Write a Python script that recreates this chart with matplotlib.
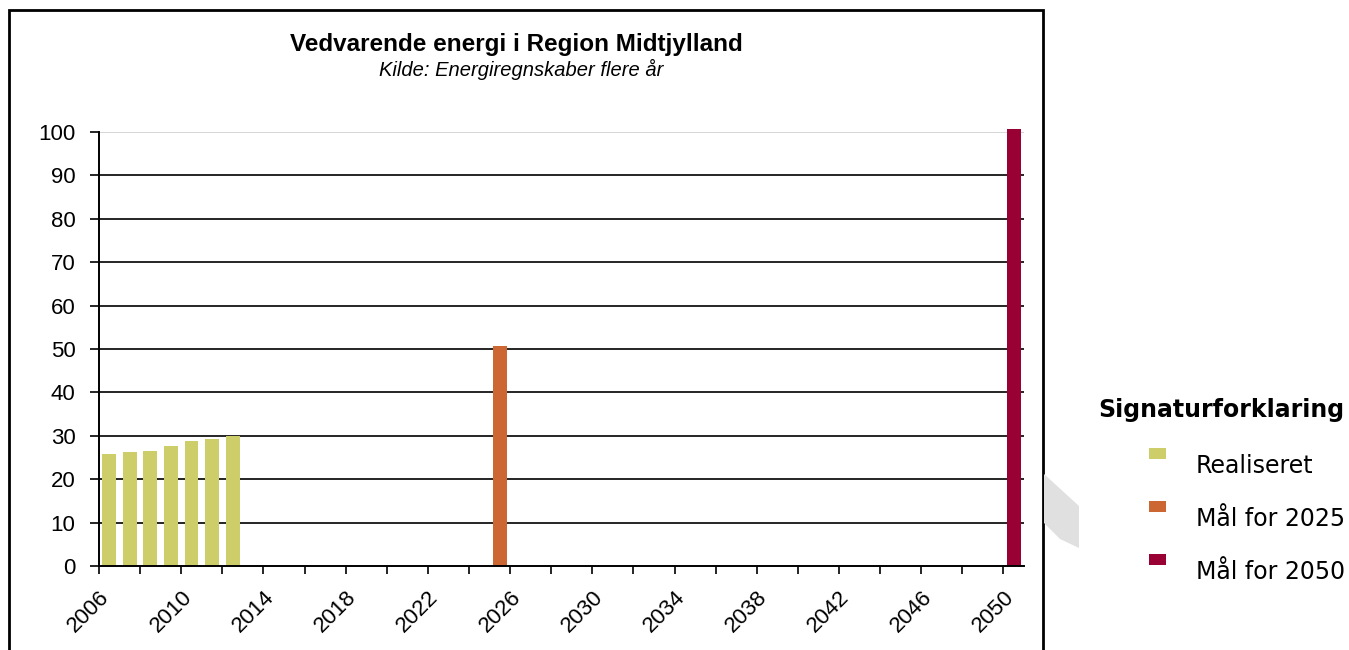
import matplotlib.pyplot as plt
from matplotlib.patches import Rectangle, Polygon
import numpy as np

# category axis: one slot per year
years = list(range(2006, 2051))

realised_years = [2006, 2007, 2008, 2009, 2010, 2011, 2012]
realised_vals = [25.8, 26.2, 26.6, 27.7, 28.8, 29.2, 30.0]
goal_2025_years = [2025]
goal_2025_vals = [50.6]
goal_2050_years = [2050]
goal_2050_vals = [100.8]

legend_labels = ["Realiseret", "Mål for 2025", "Mål for 2050"]
colors = ["#CDCD69", "#CC6633", "#990033"]

W, H = 1349, 650


def fx(px):
    return px / W


def fy(py):
    return 1 - py / H


def main():
    fig = plt.figure(figsize=(W / 100, H / 100), dpi=100)
    ax = fig.add_axes([fx(99), fy(566), fx(1024) - fx(99), fy(132) - fy(566)])

    idx = {y: i for i, y in enumerate(years)}
    series = [
        (realised_years, realised_vals),
        (goal_2025_years, goal_2025_vals),
        (goal_2050_years, goal_2050_vals),
    ]
    for (yrs, vals), c in zip(series, colors):
        x = [idx[y] for y in yrs]
        ax.bar(x, vals, width=0.68, color=c, zorder=3, clip_on=False)

    ax.set_xlim(-0.5, len(years) - 0.5)
    ax.set_ylim(0, 100)

    # y axis
    yt = np.arange(0, 101, 10)
    ax.set_yticks(yt)
    ax.set_yticklabels([str(v) for v in yt], fontsize=16, family="Liberation Sans")
    for v in yt[1:-1]:
        ax.axhline(v, color="black", lw=1.2, zorder=1)
    ax.axhline(100, color="#d0d0d0", lw=1.2, zorder=1)
    ax.tick_params(axis="y", length=6.5, width=1.2, pad=10.5, direction="out")

    # x axis: ticks on category edges every 2 years, labels every 4
    tick_years = [y for y in years if (y - 2006) % 2 == 0]
    ax.set_xticks([idx[y] - 0.5 for y in tick_years])
    ax.set_xticklabels(
        [str(y) if (y - 2006) % 4 == 0 else "" for y in tick_years],
        rotation=45, ha="right", va="top", rotation_mode="anchor",
        fontsize=16, family="Liberation Sans",
    )
    ax.tick_params(axis="x", length=6, width=1.2, pad=9, direction="out")

    for s in ["top", "right"]:
        ax.spines[s].set_visible(False)
    for s in ["left", "bottom"]:
        ax.spines[s].set_linewidth(1.4)
        ax.spines[s].set_zorder(4)

    # chart frame
    fig.patches.append(Rectangle((fx(9), fy(660)), fx(1043) - fx(9), fy(10) - fy(660),
                                 transform=fig.transFigure, fill=False,
                                 edgecolor="black", lw=2))
    # faint watermark shape
    fig.patches.append(Polygon([(fx(1044), fy(474)), (fx(1079), fy(506)),
                                (fx(1079), fy(548)), (fx(1060), fy(539)),
                                (fx(1044), fy(523))],
                               closed=True, transform=fig.transFigure,
                               facecolor="#e0e0e0", edgecolor="none"))

    fig.text(fx(516), fy(45), "Vedvarende energi i Region Midtjylland",
             ha="center", va="center", fontsize=17.5, fontweight="bold",
             family="Liberation Sans")
    fig.text(fx(521), fy(69), "Kilde: Energiregnskaber flere år",
             ha="center", va="center", fontsize=14.5, style="italic",
             family="Liberation Sans")

    # legend
    fig.text(fx(1098), fy(410), "Signaturforklaring", ha="left", va="center",
             fontsize=17, fontweight="bold", family="DejaVu Sans")
    for i, (lab, c) in enumerate(zip(legend_labels, colors)):
        ytxt = 466 + i * 53
        fig.patches.append(Rectangle((fx(1149), fy(ytxt - 7)), fx(17), 11 / H,
                                     transform=fig.transFigure, facecolor=c,
                                     edgecolor="none"))
        fig.text(fx(1196), fy(ytxt), lab, ha="left", va="center",
                 fontsize=17, family="DejaVu Sans")

    fig.savefig("out.png", dpi=100)


if __name__ == "__main__":
    main()
